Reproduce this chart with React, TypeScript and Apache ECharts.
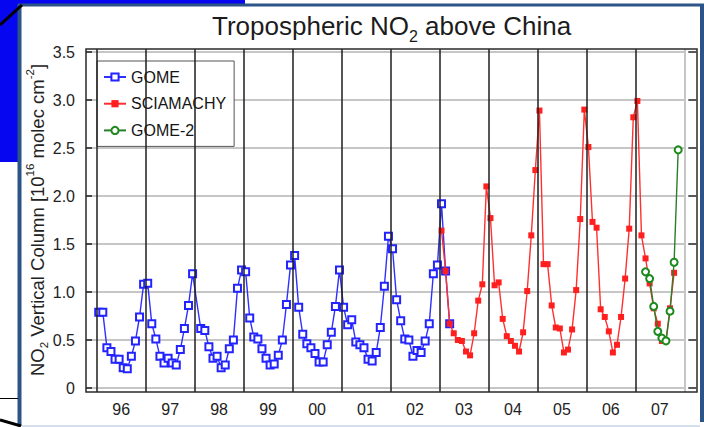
import React, { useEffect, useRef } from 'react';
import * as echarts from 'echarts';

const FONT = '"Liberation Sans", Arial, Helvetica, sans-serif';

// Year boundaries (vertical lines) and year tick labels
const yearLines = [1996, 1997, 1998, 1999, 2000, 2001, 2002, 2003, 2004, 2005, 2006, 2007, 2008];
const yearLabels = ['96', '97', '98', '99', '00', '01', '02', '03', '04', '05', '06', '07'];

// Monthly tropospheric NO2 columns [1e16 molec cm-2]
const gomeStart = [1996, 1];
const gomeValues: (number | null)[] = [
  // 1996
  0.79, 0.79, 0.42, 0.38, 0.30, 0.30, 0.21, 0.20, 0.33, 0.49, 0.74, 1.08,
  // 1997
  1.09, 0.67, 0.51, 0.33, 0.26, 0.31, 0.26, 0.24, 0.40, 0.62, 0.86, 1.19,
  // 1998 (January missing)
  null, 0.62, 0.60, 0.43, 0.31, 0.33, 0.21, 0.24, 0.41, 0.50, 1.04, 1.23,
  // 1999
  1.21, 0.73, 0.53, 0.51, 0.41, 0.31, 0.24, 0.25, 0.34, 0.50, 0.87, 1.28,
  // 2000
  1.38, 0.84, 0.56, 0.46, 0.42, 0.36, 0.27, 0.27, 0.45, 0.58, 0.85, 1.23,
  // 2001
  0.84, 0.66, 0.71, 0.48, 0.45, 0.42, 0.30, 0.28, 0.37, 0.63, 1.06, 1.58,
  // 2002
  1.45, 0.92, 0.70, 0.51, 0.50, 0.33, 0.39, 0.37, 0.49, 0.67, 1.19, 1.28,
  // 2003
  1.92, 1.22, 0.67,
];

const sciaStart = [2003, 1];
const sciaValues: number[] = [
  // 2003
  1.64, 1.22, 0.67, 0.57, 0.50, 0.49, 0.38, 0.34, 0.57, 0.91, 1.08, 2.10,
  // 2004
  1.77, 1.07, 1.10, 0.72, 0.54, 0.49, 0.44, 0.38, 0.58, 1.01, 1.59, 2.27,
  // 2005
  2.89, 1.29, 1.29, 0.86, 0.63, 0.62, 0.37, 0.40, 0.61, 1.02, 1.76, 2.90,
  // 2006
  2.51, 1.73, 1.67, 0.82, 0.74, 0.59, 0.37, 0.45, 0.74, 1.14, 1.66, 2.82,
  // 2007
  2.99, 1.59, 1.35, 1.09, 0.83, 0.67, 0.49, 0.49, 0.83, 1.20,
];

const gome2Start = [2007, 3];
const gome2Values: number[] = [1.21, 1.14, 0.85, 0.59, 0.52, 0.49, 0.80, 1.31, 2.48];

function toPoints(start: number[], values: (number | null)[]) {
  const out: number[][] = [];
  values.forEach((v, i) => {
    if (v === null) return;
    const m = start[1] - 1 + i;
    out.push([start[0] + (m + 0.5) / 12, v]);
  });
  return out;
}

export default function App() {
  const ref = useRef<HTMLDivElement>(null);

  useEffect(() => {
    document.body.style.margin = '0';
    if (!ref.current) return;
    const chart = echarts.init(ref.current, undefined, { renderer: 'svg' });

    const option: any = {
      animation: false,
      backgroundColor: '#ffffff',
      title: {
        text: 'Tropospheric NO{s|2} above China',
        left: 212,
        top: 8,
        padding: 0,
        textStyle: {
          fontFamily: FONT,
          fontSize: 26,
          fontWeight: 'normal',
          color: '#1c1c1c',
          lineHeight: 36,
          rich: {
            s: { fontFamily: FONT, fontSize: 16, color: '#1c1c1c', verticalAlign: 'bottom', lineHeight: 16 },
          },
        },
      },
      legend: {
        orient: 'vertical',
        left: 97,
        top: 61,
        padding: [8, 8, 8, 6],
        itemWidth: 22,
        itemHeight: 9,
        itemGap: 10.7,
        backgroundColor: '#ffffff',
        borderColor: '#555555',
        borderWidth: 1,
        data: ['GOME', 'SCIAMACHY', 'GOME-2'],
        textStyle: { fontFamily: FONT, fontSize: 16, color: '#151515' },
      },
      grid: [
        { left: 72.2, width: 626.8, top: 49, height: 343, containLabel: false },
        { left: 86, width: 598.3, top: 52, height: 336, containLabel: false },
      ],
      xAxis: [
        {
          gridIndex: 0,
          type: 'value',
          min: 1995.5,
          max: 2008.3,
          interval: 1,
          axisLine: { show: false },
          axisTick: { show: false },
          splitLine: { show: false },
          axisLabel: {
            margin: 9,
            fontFamily: FONT,
            fontSize: 16,
            color: '#222222',
            formatter: (v: number) => {
              const y = Math.floor(v + 1e-6);
              return y >= 1996 && y <= 2007 ? yearLabels[y - 1996] : '';
            },
          },
        },
        { gridIndex: 1, type: 'value', min: 0, max: 1, show: false },
      ],
      yAxis: [
        { gridIndex: 0, type: 'value', min: -4 / 96, max: 3.5 + 3 / 96, show: false },
        {
          gridIndex: 1,
          type: 'value',
          min: 0,
          max: 3.5,
          interval: 0.5,
          position: 'left',
          axisLine: { show: false },
          axisTick: { show: true, inside: true, length: 6, lineStyle: { color: '#222', width: 1.5 } },
          splitLine: { show: true, lineStyle: { color: '#c6c6c6', width: 2 } },
          axisLabel: {
            margin: 11,
            fontFamily: FONT,
            fontSize: 16,
            color: '#222222',
            formatter: (v: number) => (v === 0 ? '0' : v.toFixed(1)),
          },
          name: 'NO{sb|2} Vertical Column [10{sp|16} molec cm{sp|-2}]',
          nameLocation: 'middle',
          nameGap: 36,
          nameMoveOverlap: false,
          nameTextStyle: {
            fontFamily: FONT,
            fontSize: 18.5,
            color: '#222222',
            lineHeight: 26,
            rich: {
              sb: { fontFamily: FONT, fontSize: 11.5, color: '#222', verticalAlign: 'bottom', lineHeight: 11 },
              sp: { fontFamily: FONT, fontSize: 11.5, color: '#222', verticalAlign: 'top', lineHeight: 11 },
            },
          },
        },
        {
          gridIndex: 1,
          type: 'value',
          min: 0,
          max: 3.5,
          interval: 0.5,
          position: 'right',
          offset: 4,
          axisLine: { show: false },
          axisTick: { show: true, inside: false, length: 8, lineStyle: { color: '#222', width: 1.5 } },
          splitLine: { show: false },
          axisLabel: { show: false },
        },
      ],
      series: [
        {
          name: '_years',
          type: 'line',
          xAxisIndex: 0,
          yAxisIndex: 0,
          data: [],
          silent: true,
          z: 1,
          markLine: {
            silent: true,
            symbol: ['none', 'none'],
            label: { show: false },
            data: yearLines.map((y) => ({
              xAxis: y,
              lineStyle: {
                color: y === 2008 ? '#c6c6c6' : '#1e1e1e',
                width: y === 2008 ? 2 : 1.5,
                type: 'solid',
              },
            })),
          },
        },
        {
          name: 'GOME',
          type: 'line',
          xAxisIndex: 0,
          yAxisIndex: 0,
          data: toPoints(gomeStart, gomeValues),
          symbol: 'emptyRect',
          symbolSize: 7,
          color: '#2323ff',
          lineStyle: { color: '#2f2fff', width: 1.4 },
          itemStyle: { color: '#2323ff', borderWidth: 1.6 },
          z: 3,
        },
        {
          name: 'SCIAMACHY',
          type: 'line',
          xAxisIndex: 0,
          yAxisIndex: 0,
          data: toPoints(sciaStart, sciaValues),
          symbol: 'rect',
          symbolSize: 6,
          color: '#ff1f1f',
          lineStyle: { color: '#ff3030', width: 1.4 },
          itemStyle: { color: '#ff1f1f' },
          z: 4,
        },
        {
          name: 'GOME-2',
          type: 'line',
          xAxisIndex: 0,
          yAxisIndex: 0,
          data: toPoints(gome2Start, gome2Values),
          symbol: 'emptyCircle',
          symbolSize: 7,
          color: '#1c8a1c',
          lineStyle: { color: '#2a7d2a', width: 1.4 },
          itemStyle: { color: '#1c8a1c', borderWidth: 1.6 },
          z: 5,
        },
      ],
      graphic: [
        { type: 'rect', z: -10, silent: true, shape: { x: 0, y: 0, width: 245, height: 162 }, style: { fill: '#0606f0' } },
        { type: 'rect', z: -9, silent: true, shape: { x: 19, y: 4.5, width: 684, height: 421 }, style: { fill: '#ffffff' } },
        { type: 'line', z: -8, silent: true, shape: { x1: 18, y1: 5, x2: 704, y2: 5 }, style: { stroke: '#2c5486', lineWidth: 3 } },
        { type: 'line', z: -8, silent: true, shape: { x1: 19.5, y1: 4, x2: 19.5, y2: 426 }, style: { stroke: '#2c5486', lineWidth: 4 } },
        { type: 'line', z: -8, silent: true, shape: { x1: 702, y1: 4, x2: 702, y2: 422 }, style: { stroke: '#2c5486', lineWidth: 4 } },
        { type: 'line', z: -8, silent: true, shape: { x1: 22, y1: 426, x2: 700, y2: 426 }, style: { stroke: '#d4e0ee', lineWidth: 2 } },
        { type: 'line', z: -7, silent: true, shape: { x1: 0, y1: 25, x2: 22, y2: 5 }, style: { stroke: '#000000', lineWidth: 3 } },
        { type: 'line', z: -7, silent: true, shape: { x1: 0, y1: 398.5, x2: 18, y2: 398.5 }, style: { stroke: '#000000', lineWidth: 1 } },
        { type: 'line', z: -7, silent: true, shape: { x1: 0, y1: 420, x2: 21, y2: 426 }, style: { stroke: '#000000', lineWidth: 3 } },
        { type: 'rect', z: 10, silent: true, shape: { x: 86, y: 49, width: 611, height: 343 }, style: { fill: 'none', stroke: '#2a2a2a', lineWidth: 1.5 } },
      ],
    };

    chart.setOption(option);
    return () => chart.dispose();
  }, []);

  return (
    <div
      ref={ref}
      style={{ position: 'fixed', left: 0, top: 0, width: 704, height: 427 }}
    />
  );
}
